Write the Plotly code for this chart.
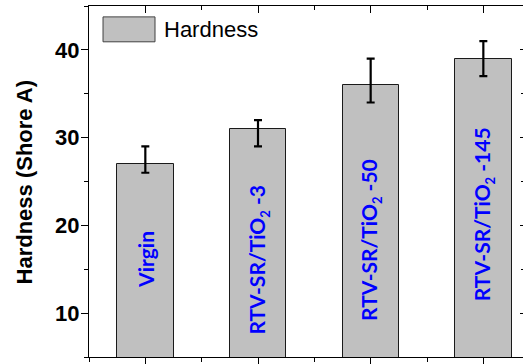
import plotly.graph_objects as go

# ---- data ----
sub2 = "<sub><span style='font-size:13px'>2</span></sub>"
categories = ["Virgin", "RTV-SR/TiO" + sub2 + " -3", "RTV-SR/TiO" + sub2 + " -50",
              "RTV-SR/TiO" + sub2 + " -145"]
hardness = [27, 31, 36, 39]
err_plus = [2, 1, 3, 2]
err_minus = [1, 2, 2, 2]
series_name = "Hardness"
y_title = "Hardness (Shore A)"
y_ticks = [10, 20, 30, 40]

positions = list(range(1, len(categories) + 1))

fig = go.Figure()
fig.add_trace(go.Bar(
    x=positions, y=hardness, width=0.5, name=series_name,
    marker=dict(color="#c0c0c0", line=dict(color="#1a1a1a", width=1)),
    error_y=dict(type="data", symmetric=False, array=err_plus, arrayminus=err_minus,
                 color="black", thickness=2.2, width=4),
    showlegend=False, xaxis="x", yaxis="y",
))
# invisible trace to activate the mirrored (top/right) axes
fig.add_trace(go.Scatter(x=positions, y=hardness, mode="markers",
                         marker=dict(opacity=0), hoverinfo="skip",
                         showlegend=False, xaxis="x2", yaxis="y2"))

# labels inside bars (vertical centres in data units)
label_centres = [16.1, 16.1, 18.3, 21.3]
for xp, lab, yc in zip(positions, categories, label_centres):
    fig.add_annotation(x=xp, y=yc, xref="x", yref="y", text=lab, textangle=-90,
                       showarrow=False,
                       font=dict(family="Lato", size=21, color="#0000ff", weight="bold"))

# y-axis title
fig.add_annotation(xref="paper", yref="paper", x=-0.1475, y=0.5, xanchor="center",
                   yanchor="middle", text=y_title, textangle=-90, showarrow=False,
                   font=dict(family="Arial, Liberation Sans", size=22, color="black",
                             weight="bold"))

# legend drawn manually
fig.add_shape(type="rect", xref="paper", yref="paper",
              x0=0.0323, x1=0.1521, y0=0.898, y1=0.969,
              fillcolor="#c0c0c0", line=dict(color="#404040", width=1))
fig.add_annotation(xref="paper", yref="paper", x=0.168, y=0.9336, xanchor="left",
                   yanchor="middle", text=series_name, showarrow=False,
                   font=dict(family="Arial, Liberation Sans", size=22, color="black"))

xr = [0.5, 4.352]
yr = [5, 45]
fig.update_layout(
    width=523, height=364,
    margin=dict(l=89, r=0, t=6, b=4, pad=0),
    plot_bgcolor="white", paper_bgcolor="white",
    bargap=0,
    xaxis=dict(range=xr, tickvals=positions, showticklabels=False, ticks="outside",
               ticklen=7, tickwidth=1, tickcolor="black", showline=True,
               linecolor="black", linewidth=1, showgrid=False, zeroline=False,
               minor=dict(tick0=0.5, dtick=1, ticks="outside", ticklen=4,
                          tickcolor="black", showgrid=False)),
    xaxis2=dict(range=xr, overlaying="x", side="top", anchor="y", tickvals=positions,
                showticklabels=False, ticks="inside", ticklen=7, tickwidth=1,
                tickcolor="black", showline=True, linecolor="black", linewidth=1,
                showgrid=False, zeroline=False,
                minor=dict(tick0=0.5, dtick=1, ticks="inside", ticklen=4,
                           tickcolor="black", showgrid=False)),
    yaxis=dict(range=yr, tickvals=y_ticks, ticks="outside", ticklen=7, tickwidth=1,
               tickcolor="black", showline=True, linecolor="black", linewidth=1,
               showgrid=False, zeroline=False, ticklabelstandoff=-3,
               tickfont=dict(family="Arial, Liberation Sans", size=22, color="black",
                             weight="bold"),
               minor=dict(tick0=5, dtick=5, ticks="outside", ticklen=4,
                          tickcolor="black", showgrid=False)),
    yaxis2=dict(range=yr, overlaying="y", side="right", anchor="x", tickvals=y_ticks,
                showticklabels=False, ticks="inside", ticklen=3, tickwidth=1,
                tickcolor="black", showline=False, showgrid=False, zeroline=False,
                minor=dict(tick0=5, dtick=5, ticks="inside", ticklen=2,
                           tickcolor="black", showgrid=False)),
)

fig.write_html("out.html")
